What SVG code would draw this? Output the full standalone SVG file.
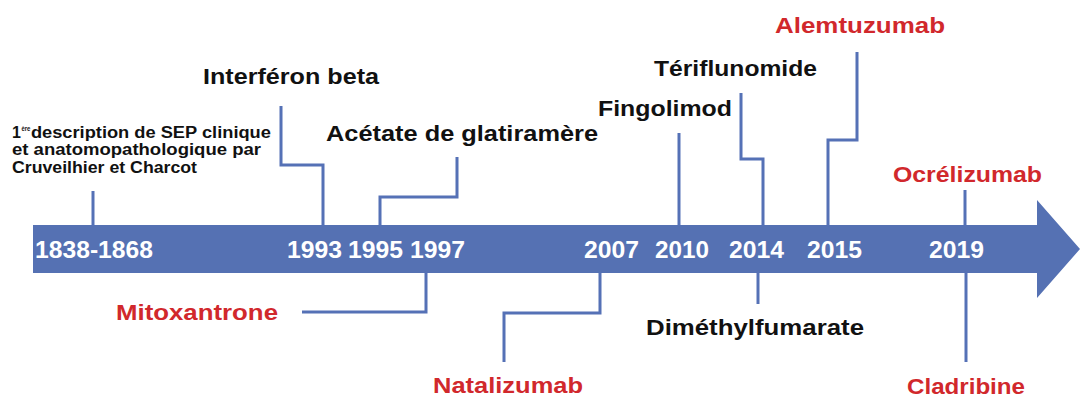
<svg xmlns="http://www.w3.org/2000/svg" width="1080" height="397" viewBox="0 0 1080 397">
  <style>
    .lbl { font-family: "Liberation Sans", Arial, sans-serif; font-weight: bold; font-size: 22.5px; fill: #111111; }
    .red { fill: #d1282c; }
    .yr { font-family: "Liberation Sans", Arial, sans-serif; font-weight: bold; font-size: 23.5px; fill: #ffffff; }
    .desc { font-family: "Liberation Sans", Arial, sans-serif; font-weight: bold; font-size: 16px; fill: #111111; }
    .sup { font-family: "Liberation Sans", Arial, sans-serif; font-weight: bold; font-size: 8px; fill: #111111; }
    .conn { fill: none; stroke: #5571b6; stroke-width: 3; }
  </style>
  <rect width="1080" height="397" fill="#ffffff"/>

  <g id="timeline-arrow">
    <polygon points="33,225 1037,225 1037,200 1080,249 1037,298 1037,273 33,273" fill="#5571b3"/>
  </g>

  <g id="connectors">
    <path class="conn" d="M93,191 V226"/>
    <path class="conn" d="M281,106 V165 H323 V226"/>
    <path class="conn" d="M457,157 V197 H380 V226"/>
    <path class="conn" d="M302,312 H426 V272"/>
    <path class="conn" d="M504,362 V313 H600 V272"/>
    <path class="conn" d="M679,133 V226"/>
    <path class="conn" d="M741,93 V159 H763 V226"/>
    <path class="conn" d="M857,52 V140 H828 V226"/>
    <path class="conn" d="M965,190 V226"/>
    <path class="conn" d="M758,272 V304"/>
    <path class="conn" d="M966,272 V362"/>
  </g>

  <g id="years">
    <text class="yr" x="35" y="258" textLength="118" lengthAdjust="spacingAndGlyphs">1838-1868</text>
    <text class="yr" x="287" y="258" textLength="55" lengthAdjust="spacingAndGlyphs">1993</text>
    <text class="yr" x="348" y="258" textLength="55" lengthAdjust="spacingAndGlyphs">1995</text>
    <text class="yr" x="410" y="258" textLength="55" lengthAdjust="spacingAndGlyphs">1997</text>
    <text class="yr" x="584" y="258" textLength="55" lengthAdjust="spacingAndGlyphs">2007</text>
    <text class="yr" x="655" y="258" textLength="54" lengthAdjust="spacingAndGlyphs">2010</text>
    <text class="yr" x="729" y="258" textLength="55" lengthAdjust="spacingAndGlyphs">2014</text>
    <text class="yr" x="807" y="258" textLength="55" lengthAdjust="spacingAndGlyphs">2015</text>
    <text class="yr" x="929" y="258" textLength="55" lengthAdjust="spacingAndGlyphs">2019</text>
  </g>

  <g id="node-sep">
    <text class="desc" x="12" y="138">1<tspan class="sup" dx="0.5" dy="-7" textLength="9" lengthAdjust="spacingAndGlyphs">ère</tspan><tspan dx="0.5" dy="7" textLength="240" lengthAdjust="spacingAndGlyphs">description de SEP clinique</tspan></text>
    <text class="desc" x="12" y="155" textLength="249" lengthAdjust="spacingAndGlyphs">et anatomopathologique par</text>
    <text class="desc" x="12" y="173" textLength="185" lengthAdjust="spacingAndGlyphs">Cruveilhier et Charcot</text>
  </g>
  <g id="node-interferon">
    <text class="lbl" x="203" y="84" textLength="176" lengthAdjust="spacingAndGlyphs">Interféron beta</text>
  </g>
  <g id="node-acetate">
    <text class="lbl" x="326" y="141" textLength="272" lengthAdjust="spacingAndGlyphs">Acétate de glatiramère</text>
  </g>
  <g id="node-mitoxantrone">
    <text class="lbl red" x="116" y="320" textLength="162" lengthAdjust="spacingAndGlyphs">Mitoxantrone</text>
  </g>
  <g id="node-natalizumab">
    <text class="lbl red" x="433" y="393" textLength="150" lengthAdjust="spacingAndGlyphs">Natalizumab</text>
  </g>
  <g id="node-fingolimod">
    <text class="lbl" x="598" y="116" textLength="134" lengthAdjust="spacingAndGlyphs">Fingolimod</text>
  </g>
  <g id="node-teriflunomide">
    <text class="lbl" x="654" y="76" textLength="163" lengthAdjust="spacingAndGlyphs">Tériflunomide</text>
  </g>
  <g id="node-dimethylfumarate">
    <text class="lbl" x="646" y="335" textLength="218" lengthAdjust="spacingAndGlyphs">Diméthylfumarate</text>
  </g>
  <g id="node-alemtuzumab">
    <text class="lbl red" x="775" y="33" textLength="170" lengthAdjust="spacingAndGlyphs">Alemtuzumab</text>
  </g>
  <g id="node-ocrelizumab">
    <text class="lbl red" x="893" y="182" textLength="149" lengthAdjust="spacingAndGlyphs">Ocrélizumab</text>
  </g>
  <g id="node-cladribine">
    <text class="lbl red" x="907" y="394" textLength="118" lengthAdjust="spacingAndGlyphs">Cladribine</text>
  </g>
</svg>
